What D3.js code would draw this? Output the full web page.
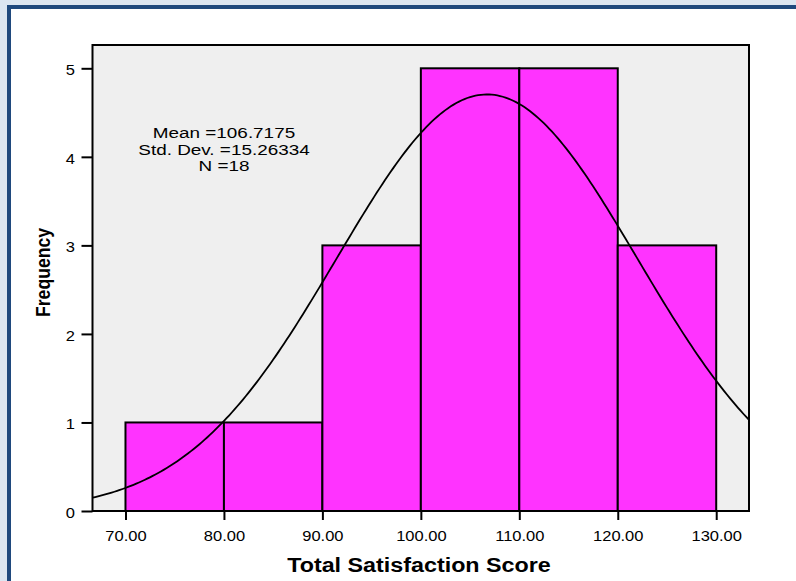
<!DOCTYPE html>
<html>
<head>
<meta charset="utf-8">
<script src="https://cdn.jsdelivr.net/npm/d3@7"></script>
<style>
  html, body { margin: 0; padding: 0; background: #dce6f1; }
  svg { display: block; }
  text { font-family: Arial, "Liberation Sans", Helvetica, sans-serif; fill: #000; }
</style>
</head>
<body>
<svg id="chart" width="796" height="581"></svg>
<script>
// ---- data ----
const binStarts = [70, 80, 90, 100, 110, 120];
const binWidth = 10;
const frequencies = [1, 1, 3, 5, 5, 3];
const xTickValues = [70, 80, 90, 100, 110, 120, 130];
const yTickValues = [0, 1, 2, 3, 4, 5];
const statMean = 106.7175;
const statSD = 15.26334;
const statN = 18;
const statLabels = ["Mean =106.7175", "Std. Dev. =15.26334", "N =18"];
const xTitle = "Total Satisfaction Score";
const yTitle = "Frequency";

// ---- layout ----
const svg = d3.select("#chart");
const W = 796, H = 581;
const plot = { left: 92.5, top: 45, right: 749, bottom: 511 };

// outer frame
svg.append("rect").attr("x", 0).attr("y", 0).attr("width", W).attr("height", H).attr("fill", "#dce6f1");
svg.append("rect").attr("x", 9).attr("y", 7).attr("width", W + 20).attr("height", H + 20)
  .attr("fill", "#ffffff").attr("stroke", "#1f497d").attr("stroke-width", 4);

const x = d3.scaleLinear().domain([66.65, 133.33]).range([plot.left, plot.right]);
const y = d3.scaleLinear().domain([0, 5]).range([plot.bottom, 68.3]);

// plot background
svg.append("rect").attr("x", plot.left).attr("y", plot.top)
  .attr("width", plot.right - plot.left).attr("height", plot.bottom - plot.top)
  .attr("fill", "#efefef");

const clip = svg.append("clipPath").attr("id", "pclip").append("rect")
  .attr("x", plot.left).attr("y", plot.top)
  .attr("width", plot.right - plot.left).attr("height", plot.bottom - plot.top);

// bars
svg.append("g").selectAll("rect").data(binStarts).join("rect")
  .attr("x", d => x(d))
  .attr("y", (d, i) => y(frequencies[i]))
  .attr("width", d => x(d + binWidth) - x(d))
  .attr("height", (d, i) => y(0) - y(frequencies[i]))
  .attr("fill", "#ff33ff")
  .attr("stroke", "#000")
  .attr("stroke-width", 2);

// normal curve from the stated mean / sd / N
const dom = x.domain();
const nSamples = 240;
const curvePts = d3.range(nSamples + 1).map(i => {
  const xv = dom[0] + (dom[1] - dom[0]) * i / nSamples;
  const z = (xv - statMean) / statSD;
  const yv = statN * binWidth / (statSD * Math.sqrt(2 * Math.PI)) * Math.exp(-0.5 * z * z);
  return [xv, yv];
});
svg.append("path").datum(curvePts)
  .attr("clip-path", "url(#pclip)")
  .attr("fill", "none").attr("stroke", "#000").attr("stroke-width", 1.8)
  .attr("d", d3.line().x(d => x(d[0])).y(d => y(d[1])).curve(d3.curveLinear));

// plot border
svg.append("rect").attr("x", plot.left).attr("y", plot.top)
  .attr("width", plot.right - plot.left).attr("height", plot.bottom - plot.top)
  .attr("fill", "none").attr("stroke", "#000").attr("stroke-width", 2);

// axes
const xAxis = svg.append("g").attr("transform", `translate(0,${plot.bottom})`)
  .call(d3.axisBottom(x).tickValues(xTickValues).tickFormat(d3.format(".2f")).tickSizeOuter(0).tickSizeInner(9).tickPadding(0));
xAxis.select(".domain").remove();
xAxis.selectAll(".tick line").attr("stroke", "#000").attr("stroke-width", 2);
xAxis.selectAll(".tick text")
  .attr("y", 30).attr("dy", 0)
  .attr("font-size", 15).attr("font-family", "Arial, 'Liberation Sans', sans-serif")
  .attr("transform", "scale(1.1,1)");

const yAxis = svg.append("g").attr("transform", `translate(${plot.left},0)`)
  .call(d3.axisLeft(y).tickValues(yTickValues).tickFormat(d3.format("d")).tickSizeOuter(0).tickSizeInner(11).tickPadding(0));
yAxis.select(".domain").remove();
yAxis.selectAll(".tick line").attr("stroke", "#000").attr("stroke-width", 2);
yAxis.selectAll(".tick text")
  .attr("x", -17.5 / 1.1).attr("dy", "0.43em")
  .attr("font-size", 15).attr("font-family", "Arial, 'Liberation Sans', sans-serif")
  .attr("transform", "scale(1.1,1)");

// stats annotation
const ann = svg.append("g").attr("transform", "translate(224,0)");
ann.selectAll("text").data(statLabels).join("text")
  .attr("transform", (d, i) => `translate(0,${[138.3, 154.5, 170.8][i]}) scale(1.22,1)`)
  .attr("text-anchor", "middle")
  .attr("font-size", 15.5)
  .text(d => d);

// axis titles
svg.append("text")
  .attr("transform", "translate(419,572.3) scale(1.11,1)")
  .attr("text-anchor", "middle")
  .attr("font-size", 21).attr("font-weight", "bold")
  .text(xTitle);

svg.append("text")
  .attr("transform", "translate(50,272.5) scale(1.1,1) rotate(-90)")
  .attr("text-anchor", "middle")
  .attr("font-size", 17.6).attr("font-weight", "bold")
  .text(yTitle);
</script>
</body>
</html>
